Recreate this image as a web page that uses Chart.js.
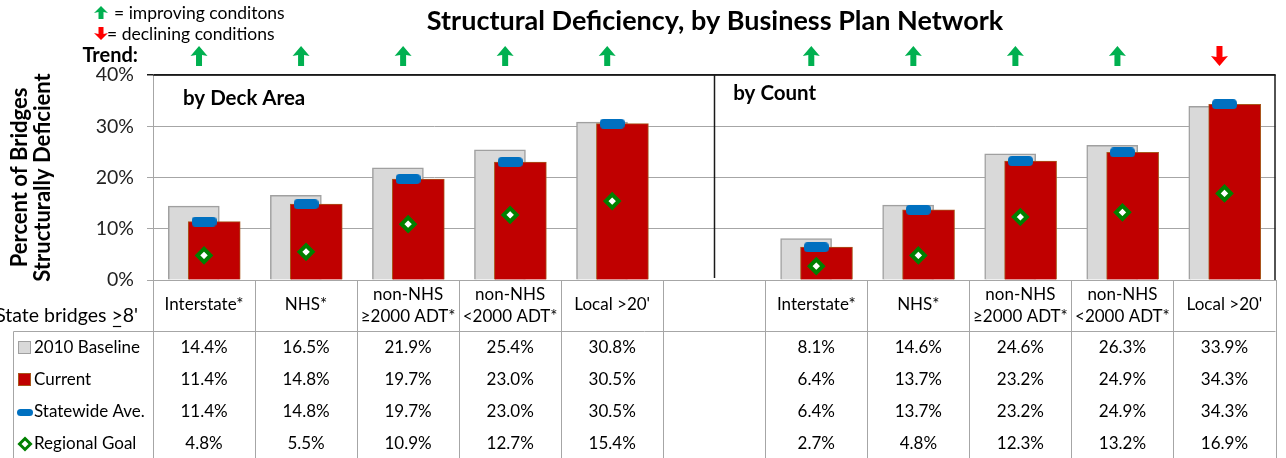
<!DOCTYPE html>
<html lang="en">
<head>
    <meta charset="UTF-8">
    <title>Structural Deficiency, by Business Plan Network</title>
    <script src="https://cdn.jsdelivr.net/npm/chart.js"></script>
    <style>
        html, body { margin: 0; padding: 0; background: #fff; }
        #wrap { width: 1286px; height: 458px; position: relative; }
    </style>
</head>
<body>
<div id="wrap"><canvas id="Chart"></canvas></div>

<script>
    // categories, index 5 is the empty gap between the two panels
    const categories = [
        ['Interstate*'], ['NHS*'], ['non-NHS', '≥2000 ADT*'], ['non-NHS', '<2000 ADT*'], ["Local >20'"],
        [''],
        ['Interstate*'], ['NHS*'], ['non-NHS', '≥2000 ADT*'], ['non-NHS', '<2000 ADT*'], ["Local >20'"]
    ];
    const baseline2010 = [14.4, 16.5, 21.9, 25.4, 30.8, null, 8.1, 14.6, 24.6, 26.3, 33.9];
    const current      = [11.4, 14.8, 19.7, 23.0, 30.5, null, 6.4, 13.7, 23.2, 24.9, 34.3];
    const statewideAve = [11.4, 14.8, 19.7, 23.0, 30.5, null, 6.4, 13.7, 23.2, 24.9, 34.3];
    const regionalGoal = [4.8, 5.5, 10.9, 12.7, 15.4, null, 2.7, 4.8, 12.3, 13.2, 16.9];
    const trend        = ['up', 'up', 'up', 'up', 'up', null, 'up', 'up', 'up', 'up', 'down'];
    const seriesNames  = ['2010 Baseline', 'Current', 'Statewide Ave.', 'Regional Goal'];
    const panelNames   = ['by Deck Area', 'by Count'];
    const yTicks       = [0, 10, 20, 30, 40];

    const FONT = 'Lato, "Open Sans", sans-serif';
    const GRAY = '#d9d9d9', GRAY_EDGE = '#a0a0a0';
    const RED = '#c00000', RED_EDGE = '#a8561c';
    const BLUE = '#0070c0', GREEN = '#008000';
    const UP = '#00b050', DOWN = '#ff0000';
    const LINE = '#a6a6a6';

    Chart.defaults.font.family = FONT;
    Chart.defaults.color = '#222';

    // turn a value list into {x, y} points, shifted a bit inside the category
    function points(values, shift) {
        const out = [];
        values.forEach((v, i) => { if (v !== null) out.push({ x: i + shift, y: v }); });
        return out;
    }

    // blue rounded dash used as point style for the statewide average
    function dashStyle(w, h, r) {
        const c = document.createElement('canvas');
        c.width = w; c.height = h;
        const g = c.getContext('2d');
        g.fillStyle = BLUE;
        g.beginPath();
        g.roundRect(0, 0, w, h, r);
        g.fill();
        return c;
    }

    function arrow(ctx, cx, top, h, w, shaft, head, up, color) {
        ctx.save();
        ctx.fillStyle = color;
        ctx.beginPath();
        const s = up ? 1 : -1;
        const y0 = up ? top : top + h;
        ctx.moveTo(cx, y0);
        ctx.lineTo(cx + w / 2, y0 + s * head);
        ctx.lineTo(cx + shaft / 2, y0 + s * (head - 1));
        ctx.lineTo(cx + shaft / 2, y0 + s * h);
        ctx.lineTo(cx - shaft / 2, y0 + s * h);
        ctx.lineTo(cx - shaft / 2, y0 + s * (head - 1));
        ctx.lineTo(cx - w / 2, y0 + s * head);
        ctx.closePath();
        ctx.fill();
        ctx.restore();
    }

    function diamond(ctx, cx, cy, r, lw) {
        ctx.save();
        ctx.beginPath();
        ctx.moveTo(cx, cy - r); ctx.lineTo(cx + r, cy); ctx.lineTo(cx, cy + r); ctx.lineTo(cx - r, cy);
        ctx.closePath();
        ctx.fillStyle = '#fff'; ctx.fill();
        ctx.lineWidth = lw; ctx.strokeStyle = GREEN; ctx.stroke();
        ctx.restore();
    }

    function hline(ctx, x1, x2, y) { ctx.beginPath(); ctx.moveTo(x1, y); ctx.lineTo(x2, y); ctx.stroke(); }
    function vline(ctx, x, y1, y2) { ctx.beginPath(); ctx.moveTo(x, y1); ctx.lineTo(x, y2); ctx.stroke(); }

    // everything around the plot: title, trend arrows, panel labels and the data table
    const decorations = {
        id: 'decorations',
        afterDraw(chart) {
            const ctx = chart.ctx;
            const area = chart.chartArea;
            const xs = chart.scales.x;
            const H = chart.height;
            const mid = i => xs.getPixelForValue(i);
            const edge = i => Math.round(xs.getPixelForValue(i - 0.5)) + 0.5;
            const gap = categories.findIndex(c => c[0] === '');

            ctx.save();
            // plot frame (top and right) and the panel divider
            ctx.strokeStyle = '#1a1a1a';
            ctx.lineWidth = 1.5;
            hline(ctx, area.left, area.right, area.top);
            vline(ctx, area.right - 0.5, area.top, area.bottom);
            vline(ctx, Math.round(mid(gap)) + 0.5, area.top, area.bottom - 2);

            // title
            ctx.fillStyle = '#000';
            ctx.textBaseline = 'middle';
            ctx.textAlign = 'center';
            ctx.font = 'bold 27px ' + FONT;
            ctx.fillText('Structural Deficiency, by Business Plan Network', 715, 21);

            // arrow legend
            arrow(ctx, 101, 6, 13, 14, 5, 7, true, UP);
            arrow(ctx, 101, 27, 13, 14, 5, 7, false, DOWN);
            ctx.textAlign = 'left';
            ctx.font = '17.5px ' + FONT;
            ctx.fillText('= improving conditons', 114, 13);
            ctx.fillText('= declining conditions', 107, 34);

            // trend row
            ctx.font = 'bold 20px ' + FONT;
            ctx.textAlign = 'right';
            ctx.fillText('Trend:', 138, 56);
            trend.forEach((t, i) => {
                if (!t) return;
                arrow(ctx, mid(i) - 5, 46, 20, 17, 6, 10, t === 'up', t === 'up' ? UP : DOWN);
            });

            // panel labels
            ctx.textAlign = 'left';
            ctx.font = 'bold 20.5px ' + FONT;
            ctx.fillText(panelNames[0], area.left + 30, 98);
            ctx.fillText(panelNames[1], mid(gap) + 19, 93);

            // data table
            ctx.strokeStyle = LINE;
            ctx.lineWidth = 1;
            const headBottom = 331.5;
            const legendLeft = 13.5;
            for (let i = 0; i <= categories.length; i++) {
                vline(ctx, edge(i), area.bottom, H);
            }
            hline(ctx, legendLeft, area.right, headBottom);
            vline(ctx, legendLeft, headBottom, H);

            ctx.font = '17px ' + FONT;
            ctx.textAlign = 'center';
            categories.forEach((lines, i) => {
                if (lines.length === 2) {
                    ctx.fillText(lines[0], mid(i), 295);
                    ctx.fillText(lines[1], mid(i), 317);
                } else {
                    ctx.fillText(lines[0], mid(i), 305);
                }
            });

            // row label on the left, clipped by the canvas edge; the ">" is underlined
            ctx.save();
            ctx.font = '19.5px ' + FONT;
            ctx.textAlign = 'right';
            const label = "State bridges >8'";
            const rightX = 138;
            ctx.fillText(label, rightX, 316);
            const wTail = ctx.measureText("8'").width;
            const wGt = ctx.measureText(">8'").width - wTail;
            ctx.strokeStyle = '#000';
            ctx.lineWidth = 1.2;
            hline(ctx, rightX - wTail - wGt + 1.5, rightX - wTail - 1.5, 326.5);
            ctx.restore();

            const rows = [baseline2010, current, statewideAve, regionalGoal];
            const rowY = [348, 380, 412, 444];
            rows.forEach((vals, r) => {
                ctx.textAlign = 'center';
                vals.forEach((v, i) => {
                    if (v === null) return;
                    ctx.fillText(v.toFixed(1) + '%', mid(i), rowY[r]);
                });
                ctx.textAlign = 'left';
                ctx.fillText(seriesNames[r], 34, rowY[r]);
            });

            // legend keys in the table
            ctx.lineWidth = 1;
            ctx.fillStyle = GRAY; ctx.strokeStyle = GRAY_EDGE;
            ctx.fillRect(18.5, rowY[0] - 6.5, 12, 12); ctx.strokeRect(18.5, rowY[0] - 6.5, 12, 12);
            ctx.fillStyle = RED; ctx.strokeStyle = RED_EDGE;
            ctx.fillRect(18.5, rowY[1] - 6.5, 12, 12); ctx.strokeRect(18.5, rowY[1] - 6.5, 12, 12);
            ctx.fillStyle = BLUE;
            ctx.beginPath(); ctx.roundRect(17, rowY[2] - 3, 16, 7, 3.5); ctx.fill();
            diamond(ctx, 25, rowY[3], 5.5, 3);
            ctx.restore();
        }
    };

    const ctx = document.getElementById('Chart').getContext('2d');

    const chart = new Chart(ctx, {
        type: 'bar',
        data: {
            datasets: [
                {
                    type: 'scatter',
                    label: seriesNames[3],
                    data: points(regionalGoal, 0),
                    pointStyle: 'rectRot',
                    pointRadius: 6.5,
                    borderWidth: 4,
                    borderColor: GREEN,
                    backgroundColor: '#fff',
                    order: 0
                },
                {
                    type: 'scatter',
                    label: seriesNames[2],
                    data: points(statewideAve, 0),
                    pointStyle: dashStyle(25, 10, 4),
                    order: 1
                },
                {
                    label: seriesNames[1],
                    data: points(current, 0.1),
                    backgroundColor: RED,
                    borderColor: RED_EDGE,
                    borderWidth: 1,
                    barThickness: 52,
                    grouped: false,
                    order: 2
                },
                {
                    label: seriesNames[0],
                    data: points(baseline2010, -0.1),
                    backgroundColor: GRAY,
                    borderColor: GRAY_EDGE,
                    borderWidth: 1.5,
                    barThickness: 51,
                    grouped: false,
                    order: 3
                }
            ]
        },
        options: {
            responsive: true,
            maintainAspectRatio: false,
            animation: false,
            layout: { padding: { top: 75, right: 1, left: 0, bottom: 0 } },
            scales: {
                x: {
                    type: 'linear',
                    min: -0.5,
                    max: categories.length - 0.5,
                    offset: false,
                    ticks: { display: false },
                    grid: { display: false },
                    border: { display: true, color: LINE, width: 1 },
                    afterFit: s => { s.height = 178; }
                },
                y: {
                    min: 0,
                    max: 40,
                    afterBuildTicks: s => { s.ticks = yTicks.map(v => ({ value: v })); },
                    ticks: {
                        padding: 13,
                        color: '#222',
                        font: { size: 19.5, family: FONT },
                        callback: v => v + '%'
                    },
                    grid: {
                        color: c => c.tick && c.tick.value === 40 ? '#1a1a1a' : LINE,
                        lineWidth: c => c.tick && c.tick.value === 40 ? 1.5 : 1,
                        tickLength: 6
                    },
                    border: { display: true, color: LINE, width: 1 },
                    title: {
                        display: true,
                        text: ['Percent of Bridges', 'Structurally Deficient'],
                        color: '#000',
                        font: { size: 22, weight: 'bold', family: FONT, lineHeight: 1.05 },
                        padding: { top: 8.5, bottom: 0 }
                    },
                    afterFit: s => { s.width = 153; }
                }
            },
            plugins: {
                legend: { display: false },
                title: { display: false },
                tooltip: { enabled: false }
            }
        },
        plugins: [decorations]
    });
</script>
</body>
</html>
